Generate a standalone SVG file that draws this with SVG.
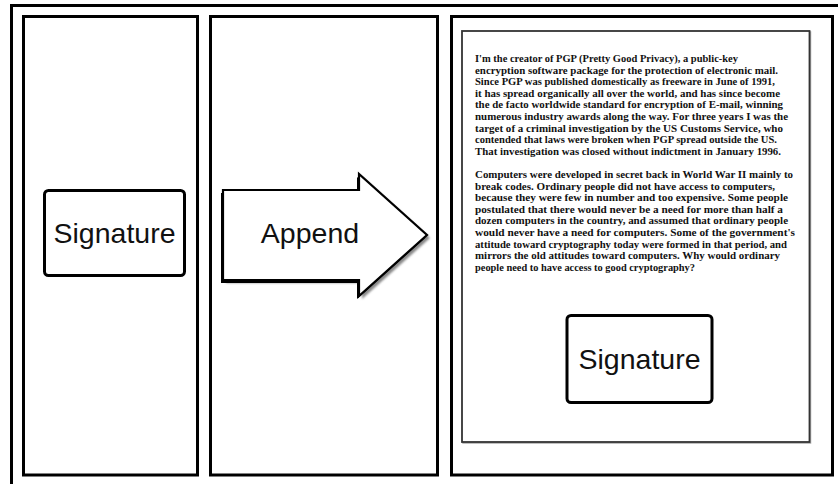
<svg xmlns="http://www.w3.org/2000/svg" width="838" height="484" viewBox="0 0 838 484">
<defs>
<style>
.frame{fill:none;stroke:#000;stroke-width:3}
.panel{fill:#fff;stroke:#000;stroke-width:3}
.box{fill:#fff;stroke:#000;stroke-width:3}
.lbl{font-family:"Liberation Sans",Arial,sans-serif;font-size:28.5px;fill:#111;text-anchor:middle}
.body{font-family:"Liberation Serif","Times New Roman",serif;font-size:10.5px;font-weight:bold;fill:#111}
</style>
<filter id="soft" x="-10%" y="-10%" width="120%" height="120%"><feGaussianBlur stdDeviation="0.8"/></filter>
</defs>
<rect width="838" height="484" fill="#fff"/>
<g id="frame">
<path class="frame" d="M11.5,484 V5.5 H838"/>
</g>
<g id="panel-1">
<rect class="panel" x="23.5" y="16.5" width="174" height="458.5"/>
</g>
<g id="panel-2">
<rect class="panel" x="210.5" y="16.5" width="227" height="458.5"/>
</g>
<g id="panel-3">
<rect class="panel" x="451.5" y="16.5" width="381" height="458.5"/>
</g>
<g id="signature">
<rect class="box" x="44.5" y="190.5" width="140" height="85" rx="4"/>
<text class="lbl" x="114.5" y="243">Signature</text>
</g>
<g id="append">
<polygon points="226,193 362,193 362,177 430,238 362,299 362,283 226,283" fill="#888" filter="url(#soft)"/>
<polygon points="221,193 357,193 357,177 425,238 357,299 357,283 221,283" fill="#000"/>
<polygon points="223,190 359,190 359,174 427,235 359,296 359,280 223,280" fill="#fff" stroke="#000" stroke-width="2.2" stroke-linejoin="miter"/>
<text class="lbl" x="310" y="243">Append</text>
</g>
<g id="document">
<rect x="463" y="32" width="347.5" height="411" fill="none" stroke="#aaa" stroke-width="1.5"/>
<rect x="462" y="31" width="347.5" height="411" fill="#fff" stroke="#333" stroke-width="1.8"/>
<g class="body">
<text x="475" y="62" textLength="263" lengthAdjust="spacingAndGlyphs">I'm the creator of PGP (Pretty Good Privacy), a public-key</text>
<text x="475" y="73.6" textLength="303" lengthAdjust="spacingAndGlyphs">encryption software package for the protection of electronic mail.</text>
<text x="475" y="85.2" textLength="300" lengthAdjust="spacingAndGlyphs">Since PGP was published domestically as freeware in June of 1991,</text>
<text x="475" y="96.8" textLength="305" lengthAdjust="spacingAndGlyphs">it has spread organically all over the world, and has since become</text>
<text x="475" y="108.4" textLength="308" lengthAdjust="spacingAndGlyphs">the de facto worldwide standard for encryption of E-mail, winning</text>
<text x="475" y="120" textLength="313" lengthAdjust="spacingAndGlyphs">numerous industry awards along the way. For three years I was the</text>
<text x="475" y="131.6" textLength="308" lengthAdjust="spacingAndGlyphs">target of a criminal investigation by the US Customs Service, who</text>
<text x="475" y="143.2" textLength="302" lengthAdjust="spacingAndGlyphs">contended that laws were broken when PGP spread outside the US.</text>
<text x="475" y="154.8" textLength="306" lengthAdjust="spacingAndGlyphs">That investigation was closed without indictment in January 1996.</text>
<text x="475" y="178" textLength="318" lengthAdjust="spacingAndGlyphs">Computers were developed in secret back in World War II mainly to</text>
<text x="475" y="189.6" textLength="300" lengthAdjust="spacingAndGlyphs">break codes. Ordinary people did not have access to computers,</text>
<text x="475" y="201.2" textLength="313" lengthAdjust="spacingAndGlyphs">because they were few in number and too expensive. Some people</text>
<text x="475" y="212.8" textLength="308" lengthAdjust="spacingAndGlyphs">postulated that there would never be a need for more than half a</text>
<text x="475" y="224.4" textLength="313" lengthAdjust="spacingAndGlyphs">dozen computers in the country, and assumed that ordinary people</text>
<text x="475" y="236" textLength="320" lengthAdjust="spacingAndGlyphs">would never have a need for computers. Some of the government's</text>
<text x="475" y="247.6" textLength="312" lengthAdjust="spacingAndGlyphs">attitude toward cryptography today were formed in that period, and</text>
<text x="475" y="259.2" textLength="305" lengthAdjust="spacingAndGlyphs">mirrors the old attitudes toward computers. Why would ordinary</text>
<text x="475" y="270.8" textLength="220" lengthAdjust="spacingAndGlyphs">people need to have access to good cryptography?</text>
</g>
</g>
<g id="signature-appended">
<rect class="box" x="567" y="315.5" width="145" height="87" rx="4"/>
<text class="lbl" x="639.5" y="369">Signature</text>
</g>
<g id="connectors"></g>
</svg>
